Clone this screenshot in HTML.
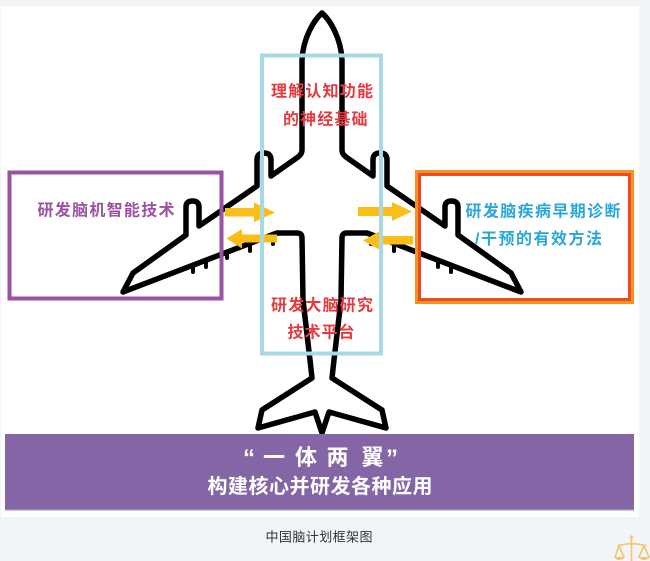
<!DOCTYPE html>
<html>
<head>
<meta charset="utf-8">
<style>
html,body{margin:0;padding:0;background:#f2f5f8;}
body{width:650px;height:561px;overflow:hidden;}
svg{display:block;}
text{font-family:"Liberation Sans","Noto Sans CJK SC",sans-serif;}
</style>
</head>
<body>
<svg width="650" height="561" viewBox="0 0 650 561" xmlns="http://www.w3.org/2000/svg">
  <rect x="0" y="0" width="650" height="561" fill="#f2f5f8"/>
  <rect x="1" y="6" width="638" height="511" fill="#ffffff"/>

  <!-- plane outline -->
  <path d="M322,13 C314,20 303,38 302,60 L302,150 Q302,154 298,157 L271,176 L271,160 Q271,153 264,153 Q257,153 257,160 L257,186 L199,226 L199,207 Q199,201 192.5,201 Q186,201 186,207 L186,235 L133,273 L123,292 L277,233 L297,233 Q302,233 302,238 L303,300 L310,360 L312,378 L262,410 L258,428 L315,412 L322,433 L329,412 L386,428 L382,410 L332,378 L334,360 L341,300 L342,238 Q342,233 347,233 L367,233 L521,292 L511,273 L458,235 L458,207 Q458,201 451.5,201 Q445,201 445,207 L445,226 L387,186 L387,160 Q387,153 380,153 Q373,153 373,160 L373,176 L346,157 Q342,154 342,150 L342,60 C341,38 330,20 322,13 Z"
        fill="none" stroke="#000" stroke-width="5.5" stroke-linejoin="round"/>
  <!-- flap fairings -->
  <g stroke="#000" stroke-width="4" stroke-linecap="round">
    <line x1="193" y1="265" x2="193" y2="272"/>
    <line x1="206" y1="260" x2="206" y2="267"/>
    <line x1="227" y1="252" x2="227" y2="258"/>
    <line x1="250" y1="243" x2="250" y2="251"/>
    <line x1="273" y1="235" x2="273" y2="244"/>
    <line x1="451" y1="265" x2="451" y2="272"/>
    <line x1="438" y1="260" x2="438" y2="267"/>
    <line x1="417" y1="252" x2="417" y2="258"/>
    <line x1="394" y1="243" x2="394" y2="251"/>
    <line x1="371" y1="235" x2="371" y2="244"/>
  </g>

  <!-- arrows -->
  <g fill="#f9bf16">
    <path d="M225,208 L254,208 L254,202.5 L275,212.5 L254,222 L254,216.5 L225,216.5 Z"/>
    <path d="M277,234.5 L242,234.5 L242,229 L226.5,238.5 L242,248.5 L242,242.5 L277,242.5 Z"/>
    <path d="M358,207 L392,207 L392,202 L412,211.5 L392,221 L392,216 L358,216 Z"/>
    <path d="M413,236 L380,236 L380,231 L363,240.5 L380,250 L380,244.5 L413,244.5 Z"/>
  </g>

  <!-- boxes -->
  <rect x="262" y="55.5" width="119" height="298" fill="none" stroke="#a7d8e5" stroke-width="4"/>
  <rect x="9.5" y="172.5" width="212" height="126" fill="none" stroke="#9a52a3" stroke-width="4"/>
  <rect x="416.5" y="171.5" width="216" height="131" fill="none" stroke="#f7921e" stroke-width="3"/>
  <rect x="419.5" y="174.5" width="210" height="125" fill="none" stroke="#ec4a26" stroke-width="3"/>

  <!-- labels -->
  <g font-size="16" font-weight="700" dominant-baseline="central">
    <text x="271" y="92" textLength="102" lengthAdjust="spacing" fill="#e63a3f">理解认知功能</text>
    <text x="283" y="120" textLength="84.5" lengthAdjust="spacing" fill="#e63a3f">的神经基础</text>
    <text x="271" y="306" textLength="102" lengthAdjust="spacing" fill="#e63a3f">研发大脑研究</text>
    <text x="287.5" y="333" textLength="67" lengthAdjust="spacing" fill="#e63a3f">技术平台</text>
    <text x="37.5" y="211" textLength="137" lengthAdjust="spacing" fill="#9a52a3">研发脑机智能技术</text>
    <text x="465.5" y="212" textLength="155" lengthAdjust="spacing" fill="#2aa7d9">研发脑疾病早期诊断</text>
    <text x="475" y="239.5" textLength="127" lengthAdjust="spacing" fill="#2aa7d9">/干预的有效方法</text>
  </g>

  <!-- banner -->
  <rect x="5" y="434" width="629" height="76" fill="#8465a6"/>
  <rect x="5" y="509" width="629" height="1.5" fill="#9a8aae"/>
  <g fill="#ffffff" font-weight="700">
    <text x="249" y="466" font-size="24" text-anchor="middle">“</text>
    <g font-size="22" text-anchor="middle" dominant-baseline="central">
      <text x="274" y="457.5">一</text>
      <text x="306" y="457.5">体</text>
      <text x="337.5" y="457.5">两</text>
      <text x="372.5" y="457.5">翼</text>
    </g>
    <text x="392" y="466" font-size="24" text-anchor="middle">”</text>
    <text x="207.5" y="487" font-size="20" dominant-baseline="central" textLength="225" lengthAdjust="spacing">构建核心并研发各种应用</text>
  </g>

  <!-- caption -->
  <text x="265.5" y="537" font-size="13" fill="#333" dominant-baseline="central" textLength="107" lengthAdjust="spacing">中国脑计划框架图</text>

  <!-- scale icon -->
  <g stroke="#f5c46e" stroke-width="1.6" fill="none" stroke-linecap="round">
    <line x1="631.5" y1="536" x2="631.5" y2="561"/>
    <path d="M618,545.5 Q631.5,542 646,545.5"/>
    <line x1="619" y1="546" x2="615" y2="557"/>
    <line x1="619" y1="546" x2="624" y2="557"/>
    <line x1="644" y1="546" x2="639" y2="557"/>
    <line x1="644" y1="546" x2="649" y2="557"/>
  </g>
  <g fill="#f5c46e">
    <path d="M614,557 L625,557 Q619.5,563 614,557 Z"/>
    <path d="M638,557 L650,557 Q644,563 638,557 Z"/>
    <circle cx="631.5" cy="537" r="1.6"/>
  </g>
</svg>
</body>
</html>
